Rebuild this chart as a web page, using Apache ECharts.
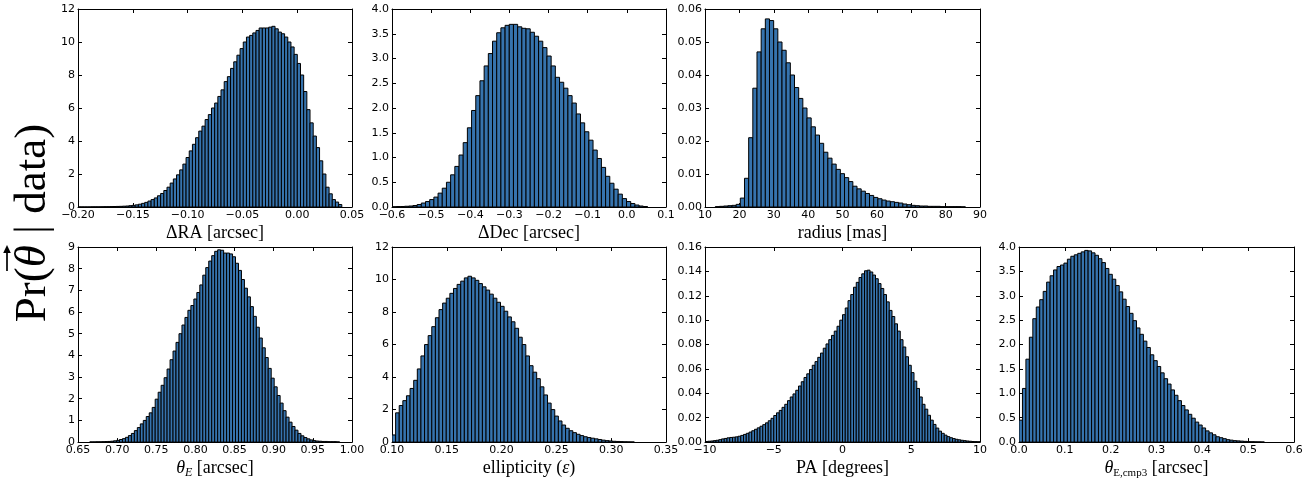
<!DOCTYPE html>
<html><head><meta charset="utf-8">
<script src="https://cdn.jsdelivr.net/npm/echarts@6/dist/echarts.min.js"></script>
<style>html,body{margin:0;padding:0;background:#fff}#c{width:1310px;height:480px}</style>
</head><body><div id="c"></div>
<script>
// ---- data: histogram bin start, bin width, bin heights ----
const raStart = -0.2, raWidth = 0.0029;
const raValues = [0.005,0.005,0.005,0.005,0.01,0.01,0.01,0.015,0.02,0.02,0.025,0.03,0.035,0.04,0.05,0.06,0.08,0.1,0.13,0.17,0.22,0.28,0.36,0.45,0.55,0.68,0.82,1.0,1.2,1.45,1.7,1.95,2.25,2.6,3.0,3.4,3.8,4.2,4.6,4.9,5.3,5.6,6.0,6.3,6.7,7.1,7.6,7.9,8.4,8.8,9.2,9.6,10.0,10.3,10.4,10.55,10.7,10.85,10.85,10.85,10.9,10.95,10.8,10.6,10.5,10.3,10.0,9.7,9.25,8.7,8.0,7.0,5.9,5.1,4.3,3.6,2.8,2.0,1.2,0.8,0.45,0.3,0.15];

const decStart = -0.6, decWidth = 0.0107;
const decValues = [0.005,0.01,0.01,0.015,0.02,0.03,0.05,0.08,0.11,0.15,0.2,0.28,0.38,0.5,0.65,0.82,1.05,1.3,1.6,1.95,2.25,2.55,2.85,3.1,3.35,3.52,3.62,3.67,3.69,3.69,3.64,3.61,3.6,3.53,3.45,3.35,3.22,3.05,2.85,2.62,2.52,2.4,2.25,2.1,1.88,1.7,1.52,1.35,1.15,0.98,0.8,0.62,0.48,0.36,0.26,0.17,0.11,0.07,0.04,0.02,0.01];

const radiusStart = 13.0, radiusWidth = 1.2125;
const radiusValues = [0.0001,0.0002,0.0003,0.0004,0.0005,0.0008,0.0027,0.0087,0.021,0.036,0.047,0.054,0.057,0.0565,0.054,0.050,0.0475,0.0437,0.040,0.0362,0.0329,0.030,0.027,0.0243,0.0218,0.0193,0.0166,0.0148,0.013,0.0114,0.0101,0.0089,0.0077,0.0063,0.0055,0.0048,0.0041,0.0035,0.0029,0.0025,0.0021,0.0018,0.0016,0.0014,0.0012,0.0009,0.0007,0.0005,0.0004,0.0003,0.0003,0.0002,0.0002,0.0002,0.0001,0.0001,0.0001,0.0001,0.0001,0.00005];

const thetaEStart = 0.665, thetaEWidth = 0.0038;
const thetaEValues = [0.01,0.01,0.015,0.015,0.02,0.025,0.03,0.04,0.06,0.08,0.12,0.16,0.22,0.3,0.4,0.53,0.67,0.84,1.0,1.18,1.35,1.6,1.98,2.3,2.62,2.97,3.37,3.8,4.2,4.6,5.0,5.4,5.75,6.08,6.3,6.6,6.9,7.25,7.7,8.05,8.35,8.6,8.8,8.87,8.85,8.72,8.72,8.68,8.55,8.25,7.92,7.5,7.1,6.7,6.25,5.8,5.3,4.8,4.35,3.9,3.4,2.95,2.55,2.15,1.8,1.45,1.15,0.92,0.72,0.55,0.4,0.29,0.21,0.15,0.1,0.07,0.05,0.04,0.03,0.03,0.02,0.02,0.02,0.01];

const ellipStart = 0.1, ellipWidth = 0.0033;
const ellipValues = [0.44,1.8,2.25,2.55,2.85,3.3,3.8,4.5,5.3,6.0,6.55,7.1,7.65,8.15,8.55,8.85,9.15,9.45,9.7,9.9,10.1,10.2,10.1,9.95,9.75,9.55,9.35,9.1,8.85,8.6,8.35,8.05,7.7,7.4,7.0,6.45,6.0,5.3,4.7,4.3,3.9,3.4,2.9,2.4,2.0,1.6,1.3,1.05,0.85,0.7,0.58,0.48,0.4,0.33,0.28,0.24,0.2,0.16,0.12,0.09,0.07,0.05,0.04,0.03,0.02,0.015,0.01];

const paStart = -10, paWidth = 0.2;
const paValues = [0.0005,0.0007,0.0009,0.0012,0.0015,0.002,0.0026,0.003,0.0035,0.0038,
0.004,0.0043,0.0048,0.0055,0.0063,0.0072,0.0082,0.0093,0.0105,0.0117,
0.013,0.0143,0.0158,0.0175,0.0195,0.0218,0.024,0.026,0.0285,0.031,
0.034,0.037,0.0395,0.0425,0.046,0.0495,0.053,0.056,0.0595,0.063,
0.066,0.0695,0.073,0.077,0.0805,0.084,0.0875,0.091,0.095,0.1,
0.1045,0.110,0.116,0.121,0.127,0.131,0.135,0.138,0.1405,0.141,
0.1395,0.137,0.134,0.130,0.126,0.121,0.115,0.108,0.103,0.097,
0.091,0.084,0.078,0.070,0.063,0.057,0.050,0.044,0.037,0.031,
0.027,0.022,0.018,0.0145,0.0115,0.009,0.0072,0.0057,0.0045,0.0036,
0.0029,0.0023,0.0019,0.0015,0.0012,0.0009,0.0007,0.0005,0.0004,0.0003];

const cmp3Start = 0.0, cmp3Width = 0.00754;
const cmp3Values = [0.45,1.1,1.7,2.15,2.53,2.77,2.92,3.09,3.28,3.41,3.53,3.6,3.63,3.67,3.75,3.81,3.84,3.87,3.9,3.93,3.92,3.88,3.83,3.76,3.68,3.56,3.44,3.34,3.21,3.08,2.93,2.78,2.64,2.49,2.34,2.21,2.07,1.94,1.79,1.67,1.55,1.42,1.3,1.19,1.07,0.96,0.85,0.75,0.66,0.57,0.49,0.41,0.35,0.29,0.23,0.19,0.15,0.11,0.09,0.07,0.05,0.04,0.03,0.025,0.02,0.015,0.01,0.008,0.006,0.005,0.003];

// axis ranges: [min, max, interval, decimals]
const raXAxis = [-0.2, 0.05, 0.05, 2],  raYAxis = [0, 12, 2, 0];
const decXAxis = [-0.6, 0.1, 0.1, 1],   decYAxis = [0, 4, 0.5, 1];
const radiusXAxis = [10, 90, 10, 0],    radiusYAxis = [0, 0.06, 0.01, 2];
const thetaEXAxis = [0.65, 1.0, 0.05, 2], thetaEYAxis = [0, 9, 1, 0];
const ellipXAxis = [0.10, 0.35, 0.05, 2], ellipYAxis = [0, 12, 2, 0];
const paXAxis = [-10, 10, 5, 0],        paYAxis = [0, 0.16, 0.02, 2];
const cmp3XAxis = [0, 0.6, 0.1, 1],     cmp3YAxis = [0, 4, 0.5, 1];

const axisNames = ['ΔRA [arcsec]', 'ΔDec [arcsec]', 'radius [mas]',
  '{it|θ}{subi|E} [arcsec]', 'ellipticity ({it|ε})', 'PA [degrees]', '{it|θ}{sub|E,cmp3} [arcsec]'];
const yTitle = 'Pr({it|θ} | data)';

// ---- build ----
const panels = [
  [raStart, raWidth, raValues, raXAxis, raYAxis],
  [decStart, decWidth, decValues, decXAxis, decYAxis],
  [radiusStart, radiusWidth, radiusValues, radiusXAxis, radiusYAxis],
  [thetaEStart, thetaEWidth, thetaEValues, thetaEXAxis, thetaEYAxis],
  [ellipStart, ellipWidth, ellipValues, ellipXAxis, ellipYAxis],
  [paStart, paWidth, paValues, paXAxis, paYAxis],
  [cmp3Start, cmp3Width, cmp3Values, cmp3XAxis, cmp3YAxis]
];
const layout = [
  {left:78, top:9, width:274, height:198},
  {left:392, top:9, width:274, height:198},
  {left:705, top:9, width:275, height:198},
  {left:78, top:247, width:274, height:200},
  {left:392, top:247, width:274, height:200},
  {left:705, top:247, width:275, height:200},
  {left:1019, top:247, width:275, height:200}
];
function fmt(d){
  return function(v){
    let s = Math.abs(v) < 1e-9 ? (0).toFixed(d) : v.toFixed(d);
    return s.replace('-', '\u2212');
  };
}
const serif = 'Liberation Serif';
const tickFont = {color:'#000', fontSize:11, fontFamily:'DejaVu Sans'};
const grids = [], xAxes = [], yAxes = [], series = [];
panels.forEach(function(p, i){
  const [start, w, vals, xa, ya] = p;
  grids.push(Object.assign({containLabel:false}, layout[i]));
  const baseX = {gridIndex:i, type:'value', min:xa[0], max:xa[1], interval:xa[2],
    axisLine:{show:true, onZero:false, lineStyle:{color:'#000', width:1}},
    axisTick:{show:true, inside:true, length:4, lineStyle:{color:'#000', width:1}},
    splitLine:{show:false}};
  xAxes.push(Object.assign({}, baseX, {position:'bottom',
    axisLabel:Object.assign({formatter:fmt(xa[3]), margin:3, showMinLabel:true, showMaxLabel:true, hideOverlap:false}, tickFont),
    name:axisNames[i], nameLocation:'middle', nameGap:12,
    nameTextStyle:{color:'#000', fontSize:18, fontFamily:serif, lineHeight:22,
      rich:{it:{fontStyle:'italic', fontSize:18, fontFamily:serif, lineHeight:22},
            sub:{fontSize:11, fontFamily:serif, verticalAlign:'bottom', lineHeight:9},
            subi:{fontSize:12, fontStyle:'italic', fontFamily:serif, verticalAlign:'bottom', lineHeight:9}}}}));
  xAxes.push(Object.assign({}, baseX, {position:'top', axisLabel:{show:false}}));
  const baseY = {gridIndex:i, type:'value', min:ya[0], max:ya[1], interval:ya[2],
    axisLine:{show:true, onZero:false, lineStyle:{color:'#000', width:1}},
    axisTick:{show:true, inside:true, length:4, lineStyle:{color:'#000', width:1}},
    splitLine:{show:false}};
  yAxes.push(Object.assign({}, baseY, {position:'left',
    axisLabel:Object.assign({formatter:fmt(ya[3]), margin:3, showMinLabel:true, showMaxLabel:true, hideOverlap:false}, tickFont)}));
  yAxes.push(Object.assign({}, baseY, {position:'right', axisLabel:{show:false}}));
  series.push({
    type:'custom', xAxisIndex:2*i, yAxisIndex:2*i, clip:true,
    data: vals.map(function(v, k){ return [start + k*w, start + (k+1)*w, v]; }),
    encode:{x:[0,1], y:2},
    renderItem:function(params, api){
      const p0 = api.coord([api.value(0), api.value(2)]);
      const p1 = api.coord([api.value(1), 0]);
      return {type:'rect', shape:{x:p0[0], y:p0[1], width:p1[0]-p0[0], height:p1[1]-p0[1]},
        style:{fill:'#3673ad', stroke:'#000', lineWidth:1}};
    }
  });
});
const chart = echarts.init(document.getElementById('c'), null, {renderer:'canvas'});
chart.setOption({
  animation:false,
  backgroundColor:'#fff',
  grid:grids, xAxis:xAxes, yAxis:yAxes, series:series,
  graphic:[
    {type:'text', x:33, y:223, rotation:Math.PI/2,
      style:{text:yTitle, fontSize:45, fontFamily:serif, fill:'#000', align:'center', verticalAlign:'middle',
        rich:{it:{fontStyle:'italic', fontSize:45, fontFamily:serif}}}},
    // vector arrow over the theta (rotated with the title)
    {type:'group', x:7, y:259, children:[
      {type:'line', shape:{x1:0, y1:12, x2:0, y2:-10}, style:{stroke:'#000', lineWidth:1.7}},
      {type:'polygon', shape:{points:[[0,-14],[-3.8,-6],[3.8,-6]]}, style:{fill:'#000'}}
    ]}
  ]
});
</script></body></html>
